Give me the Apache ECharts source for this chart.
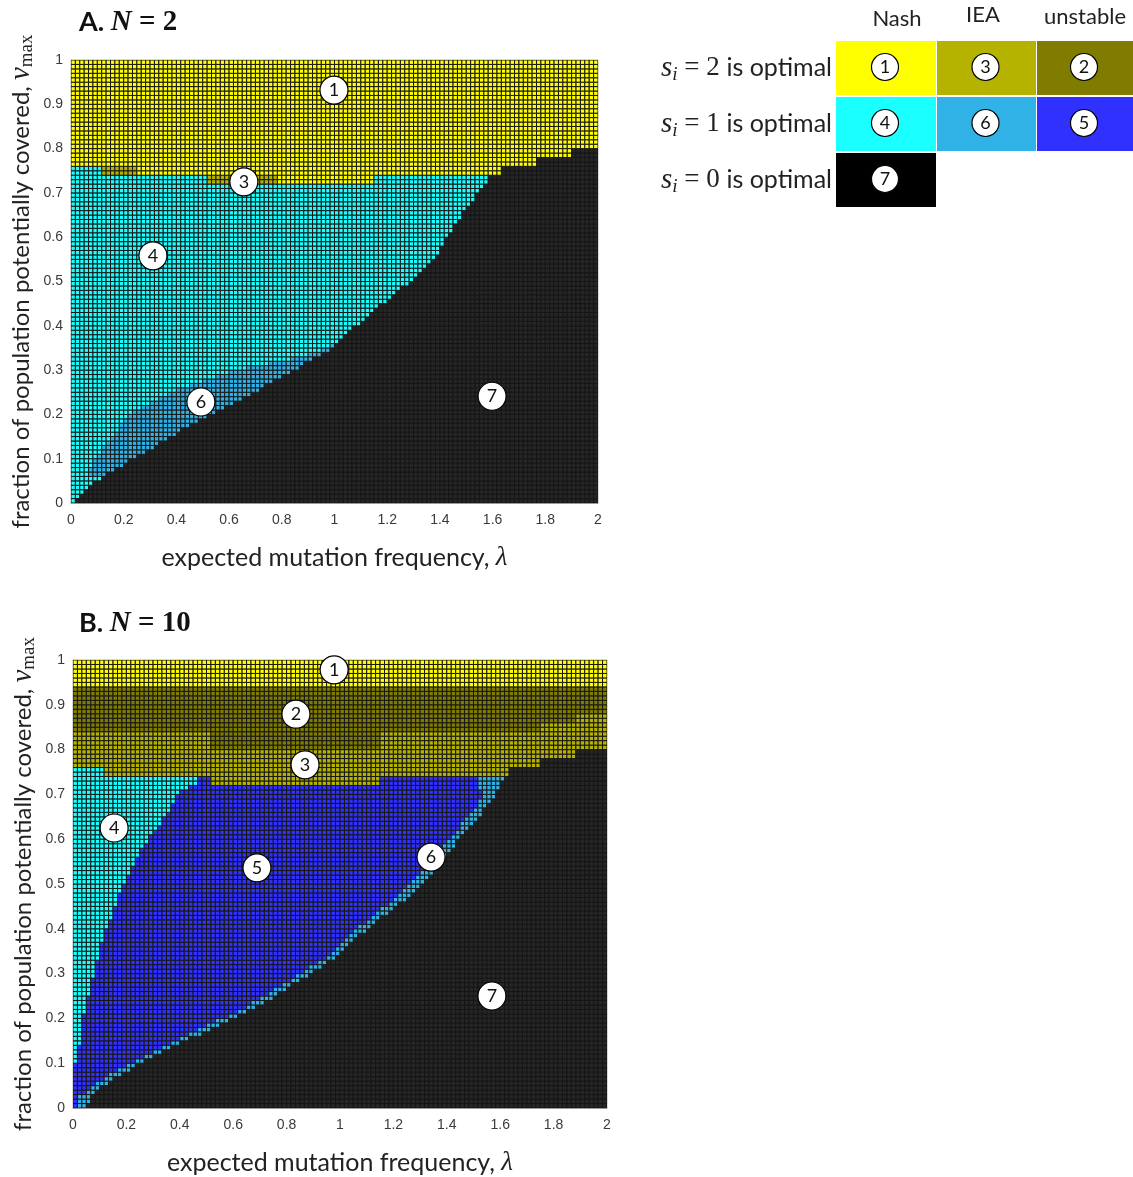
<!DOCTYPE html>
<html>
<head>
<meta charset="utf-8">
<title>optimal strategy regions, N = 2 and N = 10</title>
<script src="https://cdn.jsdelivr.net/npm/echarts@6/dist/echarts.min.js"></script>
<style>
html, body { margin: 0; padding: 0; background: #fff; }
#chart { width: 1133px; height: 1177px; }
</style>
</head>
<body>
<div id="chart"></div>
<script>
// grid of the model run: lambda 0..2 in 120 steps, v_max 0..1 in 100 steps
var LAM_STEP = 2 / 120;
var V_STEP = 0.01;
var N_COLS = 120;
var N_ROWS = 100;

// region colours (1..7, as numbered in the table)
var REGION_COLORS = ['', '#ffff00', '#7f7c00', '#b5b200', '#1affff', '#3030ff', '#30b2e6', '#262626'];

// ---------------- panel A, N = 2 ----------------
// s_i = 2 / s_i = 1 split along lambda (tops of olive and cyan areas)
var aTopLam   = [0, 0.125, 0.245, 0.51, 0.79, 1.15];
var aOliveTop = [0.76, 0.76, 0.74, 0.74, 0.72, 0.74];
var aCyanTop  = [0.76, 0.74, 0.74, 0.72, 0.72, 0.74];
// black (s_i = 0) edge: lambda where black starts, per v_max
var aBlackV   = [0, 0.02, 0.06, 0.12, 0.18, 0.23, 0.29, 0.35, 0.42, 0.50, 0.57, 0.64, 0.71, 0.74, 0.76];
var aBlackLam = [0, 0.04, 0.12, 0.30, 0.46, 0.63, 0.82, 0.99, 1.12, 1.29, 1.40, 1.47, 1.56, 1.59, 1.62];
// black corner steps top right
var aCornerLam = [1.64, 1.76, 1.90];
var aCornerTop = [0.76, 0.78, 0.80];
// region 6 left edge
var a6V   = [0.06, 0.10, 0.15, 0.20, 0.25, 0.30, 0.32, 0.34, 0.36];
var a6Lam = [0.06, 0.09, 0.16, 0.22, 0.38, 0.62, 0.80, 0.93, 0.99];

// ---------------- panel B, N = 10 ----------------
var bYellowBottom = 0.94;
var bDarkLam    = [0, 0.513, 1.155, 1.744, 1.877];
var bDarkBottom = [0.84, 0.80, 0.84, 0.86, 0.88];
var bTopLam = [0, 0.125, 0.473, 0.513, 1.155];
var bTopV   = [0.76, 0.74, 0.74, 0.72, 0.74];
var bCornerLam = [1.637, 1.757, 1.891];
var bCornerTop = [0.76, 0.78, 0.80];
// cyan (4) right edge
var bCyanV   = [0.095, 0.10, 0.181, 0.286, 0.375, 0.464, 0.546, 0.591, 0.658, 0.702, 0.73, 0.74];
var bCyanLam = [0, 0.018, 0.031, 0.072, 0.112, 0.165, 0.232, 0.272, 0.353, 0.393, 0.473, 0.473];
// region 6 band left edge and black edge
var bBandV   = [0, 0.025, 0.07, 0.107, 0.144, 0.181, 0.226, 0.278, 0.338, 0.405, 0.464, 0.539, 0.598, 0.643, 0.695, 0.715, 0.74];
var bBandLam = [0.017, 0.025, 0.12, 0.24, 0.36, 0.49, 0.65, 0.79, 0.95, 1.07, 1.20, 1.32, 1.40, 1.47, 1.535, 1.516, 1.516];
var bBlackV   = [0, 0.025, 0.07, 0.107, 0.144, 0.181, 0.226, 0.278, 0.338, 0.405, 0.464, 0.539, 0.598, 0.643, 0.695, 0.72, 0.76];
var bBlackLam = [0.05, 0.065, 0.16, 0.28, 0.40, 0.535, 0.695, 0.83, 0.99, 1.11, 1.245, 1.365, 1.445, 1.51, 1.575, 1.60, 1.637];

// circled region numbers
var aLabelNum = ['1', '3', '4', '6', '7'];
var aLabelLam = [0.998, 0.656, 0.311, 0.493, 1.598];
var aLabelV   = [0.932, 0.725, 0.558, 0.228, 0.241];
var bLabelNum = ['1', '2', '3', '4', '5', '6', '7'];
var bLabelLam = [0.978, 0.835, 0.869, 0.154, 0.689, 1.341, 1.569];
var bLabelV   = [0.978, 0.879, 0.766, 0.625, 0.536, 0.560, 0.250];

// table on the right
var tableCols = ['Nash', 'IEA', 'unstable'];
var tableRows = ['2', '1', '0'];
var tableNums = [['1', '3', '2'], ['4', '6', '5'], ['7']];

var SANS = 'Lato, "Open Sans", sans-serif';
var SERIF = '"Liberation Serif", "DejaVu Serif", serif';
var TICK = '"Liberation Sans", Arial, sans-serif';

function lerpAt(vs, lams, v) {
    if (v <= vs[0]) return lams[0];
    for (var k = 1; k < vs.length; k++) {
        if (v <= vs[k]) {
            var t = (v - vs[k - 1]) / (vs[k] - vs[k - 1]);
            return lams[k - 1] + t * (lams[k] - lams[k - 1]);
        }
    }
    return lams[lams.length - 1];
}
function stepAt(starts, vals, lam) {
    var out = vals[0];
    for (var k = 0; k < starts.length; k++) {
        if (lam >= starts[k]) out = vals[k];
    }
    return out;
}
function cornerTop(starts, tops, lam) {
    var top = -1;
    for (var k = 0; k < starts.length; k++) {
        if (lam >= starts[k]) top = tops[k];
    }
    return top;
}

function classA(lam, v) {
    if (v < cornerTop(aCornerLam, aCornerTop, lam)) return 7;
    if (v >= stepAt(aTopLam, aOliveTop, lam)) return 1;
    if (v >= stepAt(aTopLam, aCyanTop, lam)) return 3;
    if (lam >= lerpAt(aBlackV, aBlackLam, v)) return 7;
    if (v >= a6V[0] && v <= a6V[a6V.length - 1] && lam >= lerpAt(a6V, a6Lam, v)) return 6;
    return 4;
}
function classB(lam, v) {
    if (v >= bYellowBottom) return 1;
    if (v < cornerTop(bCornerLam, bCornerTop, lam)) return 7;
    if (v >= stepAt(bDarkLam, bDarkBottom, lam)) return 2;
    if (v >= stepAt(bTopLam, bTopV, lam)) return 3;
    if (lam >= lerpAt(bBlackV, bBlackLam, v)) return 7;
    if (lam >= lerpAt(bBandV, bBandLam, v)) return 6;
    if (lam < lerpAt(bCyanV, bCyanLam, v)) return 4;
    return 5;
}

function buildCells(fn) {
    var out = [];
    for (var i = 0; i < N_COLS; i++) {
        for (var j = 0; j < N_ROWS; j++) {
            var lam0 = i * LAM_STEP, v0 = j * V_STEP;
            out.push([lam0, v0, fn(lam0 + LAM_STEP / 2, v0 + V_STEP / 2)]);
        }
    }
    return out;
}
function buildLabels(nums, lams, vs) {
    var out = [];
    for (var k = 0; k < nums.length; k++) out.push({ name: nums[k], value: [lams[k], vs[k]] });
    return out;
}

function renderCell(params, api) {
    var lam0 = api.value(0), v0 = api.value(1);
    var p0 = api.coord([lam0, v0 + V_STEP]);
    var p1 = api.coord([lam0 + LAM_STEP, v0]);
    return {
        type: 'rect',
        shape: { x: p0[0], y: p0[1], width: p1[0] - p0[0], height: p1[1] - p0[1] },
        style: { fill: REGION_COLORS[api.value(2)], stroke: '#161616', lineWidth: 1 }
    };
}

var circleLabel = {
    type: 'scatter',
    symbol: 'circle',
    symbolSize: 28,
    clip: false,
    silent: true,
    z: 5,
    itemStyle: { color: '#fff', borderColor: '#000', borderWidth: 1.2, opacity: 1 },
    label: { show: true, position: 'inside', formatter: '{b}', color: '#111', fontSize: 18, fontFamily: SANS }
};

var yName = '{t|fraction of population potentially covered, }{v|v}{m|max}';
var yRich = {
    t: { fontFamily: SANS, fontSize: 24, color: '#222', lineHeight: 32, verticalAlign: 'middle' },
    v: { fontFamily: SERIF, fontStyle: 'italic', fontSize: 29, color: '#222', lineHeight: 32, verticalAlign: 'middle' },
    m: { fontFamily: SERIF, fontSize: 19, color: '#222', lineHeight: 32, verticalAlign: 'bottom' }
};
var xName = '{t|expected mutation frequency, }{l|λ}';
var xRich = {
    t: { fontFamily: SANS, fontSize: 25, color: '#222' },
    l: { fontFamily: SERIF, fontStyle: 'italic', fontSize: 27, color: '#222' }
};

function makeX(idx) {
    return {
        gridIndex: idx, type: 'value', min: 0, max: 2, interval: 0.2,
        name: xName, nameLocation: 'middle', nameGap: 41,
        nameTextStyle: { rich: xRich },
        axisLine: { show: true, lineStyle: { color: '#9a9a9a' } },
        axisTick: { show: false },
        splitLine: { show: false },
        axisLabel: { fontFamily: TICK, fontSize: 14, color: '#3a3a3a', margin: 10 }
    };
}
function makeY(idx) {
    return {
        gridIndex: idx, type: 'value', min: 0, max: 1, interval: 0.1,
        name: yName, nameLocation: 'middle', nameGap: 34, nameRotate: 90,
        nameTextStyle: { rich: yRich },
        axisLine: { show: true, lineStyle: { color: '#9a9a9a' } },
        axisTick: { show: false },
        splitLine: { show: false },
        axisLabel: { fontFamily: TICK, fontSize: 14, color: '#3a3a3a', margin: 8 }
    };
}

var titleRich = {
    a: { fontFamily: SANS, fontWeight: 'bold', fontSize: 27, color: '#111' },
    n: { fontFamily: SERIF, fontStyle: 'italic', fontWeight: 'bold', fontSize: 29, color: '#111' },
    e: { fontFamily: SERIF, fontWeight: 'bold', fontSize: 29, color: '#111' }
};

//-------------------------------------------------
// table (legend) top right
//-------------------------------------------------
var TAB_X = [836, 937, 1037], TAB_W = [100, 99, 96];
var TAB_Y = [41, 97, 153], TAB_H = 54;
var HEAD_X = [897, 983, 1085], HEAD_Y = [19, 15, 17];
var graphics = [];
for (var c = 0; c < tableCols.length; c++) {
    graphics.push({
        type: 'text', x: HEAD_X[c], y: HEAD_Y[c],
        style: { text: tableCols[c], fontFamily: SANS, fontSize: 22, fill: '#222', textAlign: 'center', textVerticalAlign: 'middle' }
    });
}
for (var r = 0; r < tableRows.length; r++) {
    graphics.push({
        type: 'text', x: 832, y: TAB_Y[r] + TAB_H / 2,
        style: {
            text: '{s|s}{i|i}{e| = ' + tableRows[r] + ' }{t|is optimal}',
            textAlign: 'right', textVerticalAlign: 'middle',
            rich: {
                s: { fontFamily: SERIF, fontStyle: 'italic', fontSize: 29, fill: '#222', lineHeight: 32, verticalAlign: 'middle' },
                i: { fontFamily: SERIF, fontStyle: 'italic', fontSize: 19, fill: '#222', lineHeight: 32, verticalAlign: 'bottom' },
                e: { fontFamily: SERIF, fontSize: 27, fill: '#222', lineHeight: 32, verticalAlign: 'middle' },
                t: { fontFamily: SANS, fontSize: 25, fill: '#222', lineHeight: 32, verticalAlign: 'middle' }
            }
        }
    });
    for (var c2 = 0; c2 < tableNums[r].length; c2++) {
        var num = tableNums[r][c2];
        graphics.push({
            type: 'rect',
            shape: { x: TAB_X[c2], y: TAB_Y[r], width: TAB_W[c2], height: TAB_H },
            style: { fill: num === '7' ? '#000' : REGION_COLORS[+num] }
        });
        graphics.push({
            type: 'circle',
            shape: { cx: TAB_X[c2] + TAB_W[c2] / 2 - 1, cy: TAB_Y[r] + TAB_H / 2 - 1, r: 13.5 },
            style: { fill: '#fff', stroke: '#000', lineWidth: 1.2 },
            z: 10
        });
        graphics.push({
            type: 'text', x: TAB_X[c2] + TAB_W[c2] / 2 - 1, y: TAB_Y[r] + TAB_H / 2 - 1, z: 11,
            style: { text: num, fontFamily: SANS, fontSize: 18, fill: '#111', textAlign: 'center', textVerticalAlign: 'middle' }
        });
    }
}

var chart = echarts.init(document.getElementById('chart'), null, { renderer: 'canvas' });
var option = {
    animation: false,
    backgroundColor: '#fff',
    title: [
        { text: '{a|A. }{n|N}{e| = 2}', left: 74, top: 3, textStyle: { rich: titleRich } },
        { text: '{a|B. }{n|N}{e| = 10}', left: 74, top: 604, textStyle: { rich: titleRich } }
    ],
    grid: [
        { left: 71, top: 60, width: 527, height: 443, show: true, borderColor: '#b0b0b0', borderWidth: 1 },
        { left: 73, top: 660, width: 534, height: 448, show: true, borderColor: '#b0b0b0', borderWidth: 1 }
    ],
    xAxis: [makeX(0), makeX(1)],
    yAxis: [makeY(0), makeY(1)],
    graphic: graphics,
    series: [
        {
            type: 'custom', xAxisIndex: 0, yAxisIndex: 0, renderItem: renderCell,
            data: buildCells(classA), clip: true, silent: true, progressive: 0,
            encode: { x: 0, y: 1 }
        },
        {
            type: 'custom', xAxisIndex: 1, yAxisIndex: 1, renderItem: renderCell,
            data: buildCells(classB), clip: true, silent: true, progressive: 0,
            encode: { x: 0, y: 1 }
        },
        echarts.util.merge({ xAxisIndex: 0, yAxisIndex: 0, data: buildLabels(aLabelNum, aLabelLam, aLabelV) }, circleLabel),
        echarts.util.merge({ xAxisIndex: 1, yAxisIndex: 1, data: buildLabels(bLabelNum, bLabelLam, bLabelV) }, circleLabel)
    ]
};
chart.setOption(option);
</script>
</body>
</html>
